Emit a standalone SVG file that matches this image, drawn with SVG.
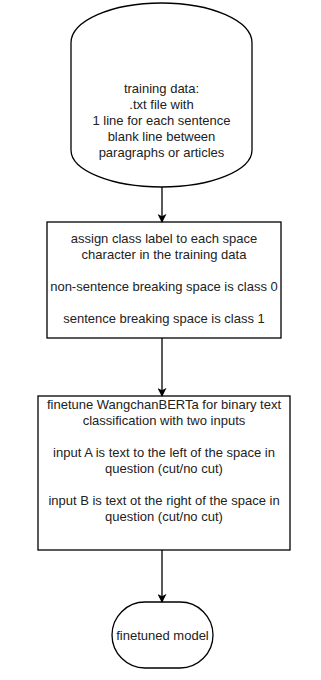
<svg xmlns="http://www.w3.org/2000/svg" width="321" height="680" viewBox="0 0 321 680">
  <defs>
    <style>
      .shape { fill: #ffffff; stroke: #000000; stroke-width: 1.3; }
      .edge { fill: none; stroke: #000000; stroke-width: 1.3; }
      .label { font-family: "Liberation Sans", Arial, sans-serif; font-size: 13px; fill: #222222; text-anchor: middle; }
    </style>
    <marker id="arrowhead" viewBox="0 0 10 10" refX="9" refY="5" markerWidth="9" markerHeight="9" markerUnits="userSpaceOnUse" orient="auto">
      <path d="M0,0 L10,5 L0,10 L2.5,5 Z" fill="#000000"/>
    </marker>
  </defs>
  <rect width="321" height="680" fill="#ffffff"/>

  <!-- training data store -->
  <g id="training-data">
    <path class="shape" d="M71,43 A90.5,40 0 0 1 252,43 L252,150 A90.5,37 0 0 1 71,150 Z"/>
    <text class="label" x="161.5" y="93">training data:</text>
    <text class="label" x="161.5" y="109">.txt file with</text>
    <text class="label" x="161.5" y="125">1 line for each sentence</text>
    <text class="label" x="161.5" y="141">blank line between</text>
    <text class="label" x="161.5" y="157">paragraphs or articles</text>
  </g>

  <!-- labelling step -->
  <g id="assign-labels">
    <rect class="shape" x="47" y="222" width="234" height="116"/>
    <text class="label" x="164" y="242.5">assign class label to each space</text>
    <text class="label" x="164" y="258.5">character in the training data</text>
    <text class="label" x="164" y="290.5">non-sentence breaking space is class 0</text>
    <text class="label" x="164" y="322.5">sentence breaking space is class 1</text>
  </g>

  <!-- finetuning step -->
  <g id="finetune">
    <rect class="shape" x="38" y="396" width="252" height="154"/>
    <text class="label" x="164" y="408.5">finetune WangchanBERTa for binary text</text>
    <text class="label" x="164" y="424.5">classification with two inputs</text>
    <text class="label" x="164" y="456.5">input A is text to the left of the space in</text>
    <text class="label" x="164" y="472.5">question (cut/no cut)</text>
    <text class="label" x="164" y="504.5">input B is text ot the right of the space in</text>
    <text class="label" x="164" y="520.5">question (cut/no cut)</text>
  </g>

  <!-- result -->
  <g id="finetuned-model">
    <rect class="shape" x="112" y="602" width="101" height="66" rx="33" ry="33" stroke-width="1.8"/>
    <text class="label" x="162.5" y="640">finetuned model</text>
  </g>

  <!-- connectors -->
  <g id="connectors">
    <path class="edge" d="M162,187 L162,222" marker-end="url(#arrowhead)"/>
    <path class="edge" d="M162,338 L162,396" marker-end="url(#arrowhead)"/>
    <path class="edge" d="M162,550 L162,602" marker-end="url(#arrowhead)"/>
  </g>
</svg>
